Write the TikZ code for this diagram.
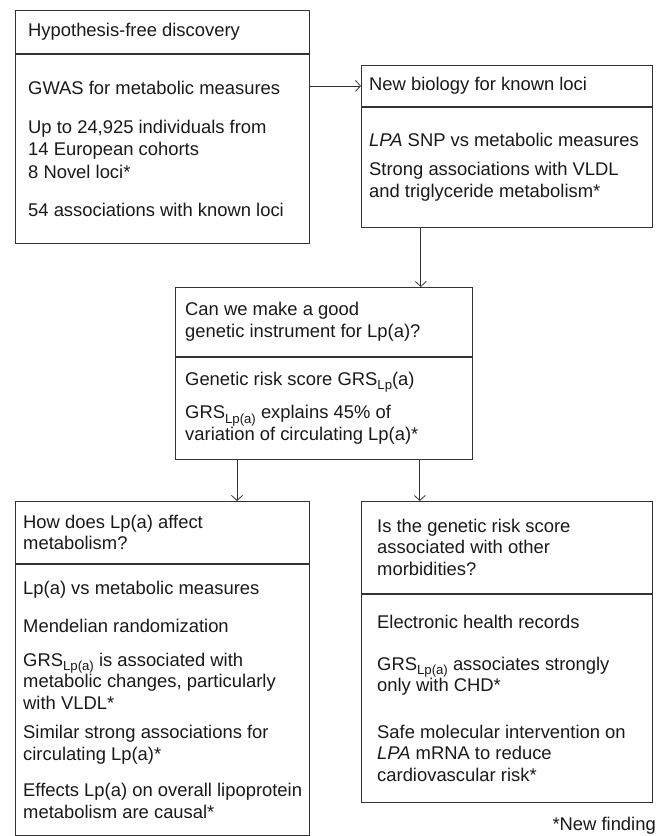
\documentclass[tikz,border=0pt]{standalone}
\usepackage{fontspec}
\setmainfont{Liberation Sans}
\usetikzlibrary{arrows.meta,positioning}
\newcommand{\lowsub}[1]{\raisebox{-4.5pt}{\fontsize{13.2}{13.2}\selectfont #1}}

\begin{document}
\begin{tikzpicture}[x=1pt,y=1pt,
  sect/.style={draw=black!80,line width=0.8pt,rectangle,inner sep=0pt,minimum width=#1},
  txt/.style={text=black!90,align=left,inner sep=0pt,anchor=west,
    font=\fontsize{18.4}{21.5}\selectfont},
  arr/.style={-{Straight Barb[length=5pt,width=11pt]},draw=black!80,line width=0.8pt}]

  \useasboundingbox (0,0) rectangle (657,-836);

  % the five boxes, header part and body part
  \node[sect=294,minimum height=43,anchor=north west] (disc-h) at (15,-10) {};
  \node[sect=294,minimum height=189,below=0pt of disc-h] (disc-b) {};
  \node[sect=291,minimum height=41,anchor=north west] (bio-h) at (361,-65) {};
  \node[sect=291,minimum height=120,below=0pt of bio-h] (bio-b) {};
  \node[sect=297,minimum height=69,anchor=north west] (inst-h) at (175,-287) {};
  \node[sect=297,minimum height=102,below=0pt of inst-h] (inst-b) {};
  \node[sect=294,minimum height=62,anchor=north west] (how-h) at (15,-501) {};
  \node[sect=294,minimum height=271,below=0pt of how-h] (how-b) {};
  \node[sect=291,minimum height=92,anchor=north west] (morb-h) at (361,-501) {};
  \node[sect=291,minimum height=208,below=0pt of morb-h] (morb-b) {};

  % texts
  \node[txt,right=13pt of disc-h.west] (disc-ht) {Hypothesis-free discovery};
  \node[txt,right=13pt of disc-b.west] (disc-bt) {GWAS for metabolic measures\\[18pt]
    Up to 24,925 individuals from\\14 European cohorts\\[2pt]
    8 Novel loci*\\[16pt]
    54 associations with known loci};
  \node[txt,right=8pt of bio-h.west] (bio-ht) {New biology for known loci};
  \node[txt,right=8pt of bio-b.west] (bio-bt) {\textit{LPA} SNP vs metabolic measures\\[8pt]
    Strong associations with VLDL\\and triglyceride metabolism*};
  \node[txt,right=10pt of inst-h.west] (inst-ht) {Can we make a good\\genetic instrument for Lp(a)?};
  \node[txt,right=10pt of inst-b.west] (inst-bt) {Genetic risk score GRS\lowsub{Lp}(a)\\[12pt]
    GRS\lowsub{Lp(a)} explains 45\% of\\variation of circulating Lp(a)*};
  \node[txt,right=8pt of how-h.west] (how-ht) {How does Lp(a) affect\\metabolism?};
  \node[txt,right=8pt of how-b.west] (how-bt) {Lp(a) vs metabolic measures\\[17pt]
    Mendelian randomization\\[12pt]
    GRS\lowsub{Lp(a)} is associated with\\metabolic changes, particularly\\with VLDL*\\[8pt]
    Similar strong associations for\\circulating Lp(a)*\\[15pt]
    Effects Lp(a) on overall lipoprotein\\metabolism are causal*};
  \node[txt,right=16pt of morb-h.west] (morb-ht) {Is the genetic risk score\\associated with other\\morbidities?};
  \node[txt,right=16pt of morb-b.west] (morb-bt) {Electronic health records\\[20pt]
    GRS\lowsub{Lp(a)} associates strongly\\only with CHD*\\[25pt]
    Safe molecular intervention on\\\textit{LPA} mRNA to reduce\\cardiovascular risk*};
  \node[txt,anchor=south east] (note) at (656,-835) {*New finding};

  % arrows
  \coordinate (top-in) at ([xshift=-52pt]inst-h.north east);
  \coordinate (left-out) at ([xshift=62pt]inst-b.south west);
  \coordinate (right-out) at ([xshift=-53pt]inst-b.south east);
  \draw[arr] (disc-b.east |- bio-h.west) -- (bio-h.west);
  \draw[arr] (bio-b.south -| top-in) -- (top-in);
  \draw[arr] (left-out) -- (left-out |- how-h.north);
  \draw[arr] (right-out) -- (right-out |- morb-h.north);
\end{tikzpicture}
\end{document}
